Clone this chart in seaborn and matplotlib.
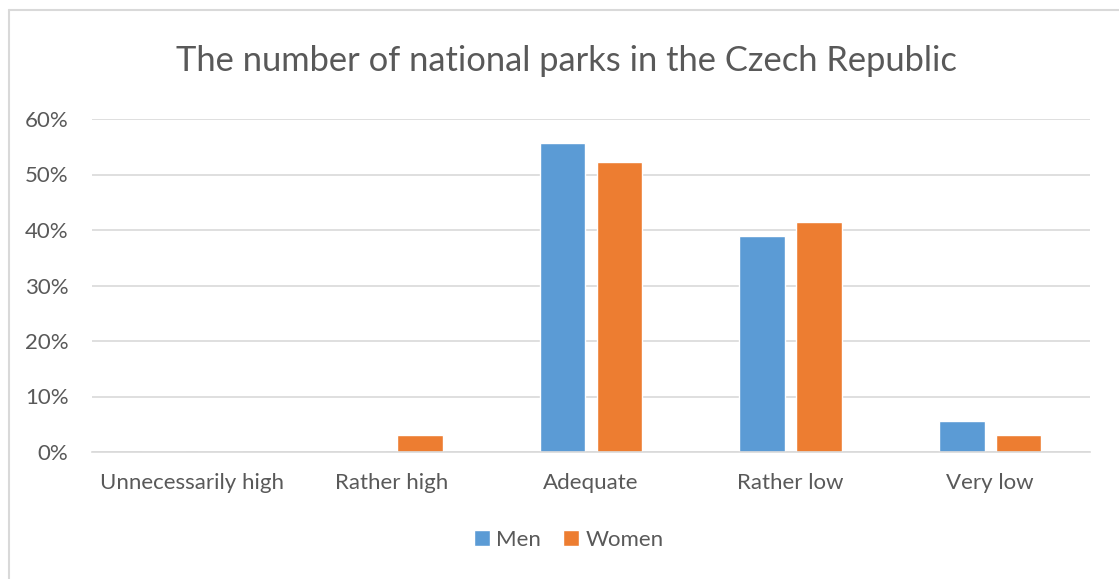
import matplotlib
matplotlib.use("Agg")
import matplotlib.pyplot as plt
from matplotlib.lines import Line2D
from matplotlib.ticker import PercentFormatter
import seaborn as sns
import pandas as pd

categories = ["Unnecessarily high", "Rather high", "Adequate", "Rather low", "Very low"]
men = [0.0, 0.0, 55.6, 38.9, 5.6]
women = [0.0, 3.1, 52.3, 41.5, 3.1]
groups = ["Men", "Women"]
colors = ["#5B9BD5", "#ED7D31"]

df = pd.DataFrame({
    "category": categories * 2,
    "value": men + women,
    "group": [groups[0]] * len(categories) + [groups[1]] * len(categories),
})

sns.set_theme(style="white")
plt.rcParams["font.family"] = ["Lato", "DejaVu Sans"]

W, H = 1119, 579
fig = plt.figure(figsize=(W / 100, H / 100), dpi=100)
ax = fig.add_axes([92 / W, 1 - 452 / H, (1090 - 92) / W, (452 - 119) / H])

sns.barplot(data=df, x="category", y="value", hue="group", order=categories,
            hue_order=groups, palette=colors, width=0.57, gap=0.2,
            saturation=1, ax=ax, legend=True)

ax.set_ylim(0, 60)
ax.set_xlim(-0.5, len(categories) - 0.5)
ax.set_yticks(range(0, 61, 10))
ax.yaxis.set_major_formatter(PercentFormatter(decimals=0))
ax.grid(axis="y", color="#D9D9D9", linewidth=1.2)
ax.set_axisbelow(True)
for s in ["top", "right", "left"]:
    ax.spines[s].set_visible(False)
ax.spines["bottom"].set_color("#D9D9D9")
ax.spines["bottom"].set_linewidth(1.2)
ax.tick_params(axis="both", length=0, labelsize=16, labelcolor="#595959")
ax.tick_params(axis="x", pad=15)
ax.tick_params(axis="y", pad=17)
ax.set_xlabel("")
ax.set_ylabel("")

fig.text(566 / W, 1 - 61 / H, "The number of national parks in the Czech Republic",
         ha="center", va="center", fontsize=24.8, color="#595959")

handles, labels = ax.get_legend_handles_labels()
ax.get_legend().remove()
fig.legend(handles, labels, loc="center", bbox_to_anchor=(569 / W, 1 - 540 / H),
           ncol=2, frameon=False, fontsize=16, labelcolor="#595959",
           handlelength=0.7, handleheight=0.7, handletextpad=0.3, columnspacing=1.0)

fig.add_artist(Line2D([8.5 / W, 8.5 / W], [0, 1 - 9.5 / H], color="#D9D9D9", linewidth=1.5,
                      transform=fig.transFigure))
fig.add_artist(Line2D([8.5 / W, 1], [1 - 9.5 / H, 1 - 9.5 / H], color="#D9D9D9", linewidth=1.5,
                      transform=fig.transFigure))

fig.savefig("out.png", dpi=100)
